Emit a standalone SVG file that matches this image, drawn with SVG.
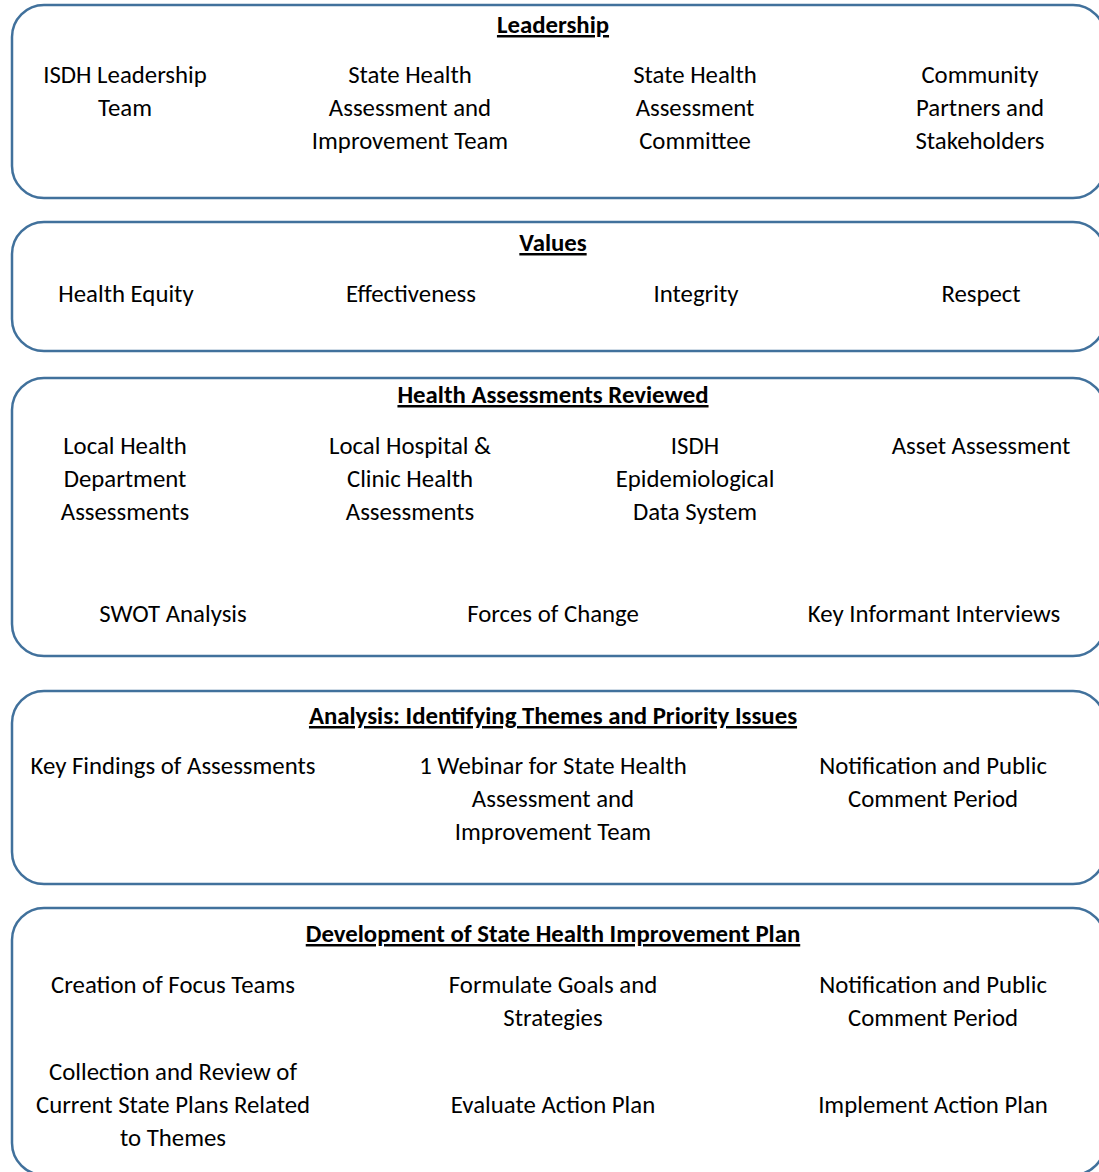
<svg xmlns="http://www.w3.org/2000/svg" width="1099" height="1172" viewBox="0 0 1099 1172">
<style>
.box{fill:#fff;stroke:#41719C;stroke-width:2.5}
text{font-family:Carlito,Lato,"Liberation Sans",sans-serif;font-size:24.8px;fill:#000;text-anchor:middle}
.t{font-weight:bold;text-decoration:underline}
</style>
<rect width="1099" height="1172" fill="#fff"/>
<g id="leadership">
<rect class="box" x="12" y="5" width="1093" height="193" rx="32"/>
<text class="t" x="553" y="33">Leadership</text>
<text x="125" y="83">ISDH Leadership</text><text x="125" y="116">Team</text>
<text x="410" y="83">State Health</text><text x="410" y="116">Assessment and</text><text x="410" y="149">Improvement Team</text>
<text x="695" y="83">State Health</text><text x="695" y="116">Assessment</text><text x="695" y="149">Committee</text>
<text x="980" y="83">Community</text><text x="980" y="116">Partners and</text><text x="980" y="149">Stakeholders</text>
</g>
<g id="values">
<rect class="box" x="12" y="222" width="1093" height="129" rx="32"/>
<text class="t" x="553" y="251">Values</text>
<text x="126" y="302">Health Equity</text>
<text x="411" y="302">Effectiveness</text>
<text x="696" y="302">Integrity</text>
<text x="981" y="302">Respect</text>
</g>
<g id="assessments">
<rect class="box" x="12" y="378" width="1093" height="278" rx="32"/>
<text class="t" x="553" y="403">Health Assessments Reviewed</text>
<text x="125" y="454">Local Health</text><text x="125" y="487">Department</text><text x="125" y="520">Assessments</text>
<text x="410" y="454">Local Hospital &amp;</text><text x="410" y="487">Clinic Health</text><text x="410" y="520">Assessments</text>
<text x="695" y="454">ISDH</text><text x="695" y="487">Epidemiological</text><text x="695" y="520">Data System</text>
<text x="981" y="454">Asset Assessment</text>
<text x="173" y="622">SWOT Analysis</text>
<text x="553" y="622">Forces of Change</text>
<text x="934" y="622">Key Informant Interviews</text>
</g>
<g id="analysis">
<rect class="box" x="12" y="691" width="1093" height="193" rx="32"/>
<text class="t" x="553" y="724">Analysis: Identifying Themes and Priority Issues</text>
<text x="173" y="774">Key Findings of Assessments</text>
<text x="553" y="774">1 Webinar for State Health</text><text x="553" y="807">Assessment and</text><text x="553" y="840">Improvement Team</text>
<text x="933" y="774">Notification and Public</text><text x="933" y="807">Comment Period</text>
</g>
<g id="development">
<rect class="box" x="12" y="908" width="1093" height="267" rx="32"/>
<text class="t" x="553" y="942">Development of State Health Improvement Plan</text>
<text x="173" y="993">Creation of Focus Teams</text>
<text x="553" y="993">Formulate Goals and</text><text x="553" y="1026">Strategies</text>
<text x="933" y="993">Notification and Public</text><text x="933" y="1026">Comment Period</text>
<text x="173" y="1080">Collection and Review of</text><text x="173" y="1113">Current State Plans Related</text><text x="173" y="1146">to Themes</text>
<text x="553" y="1113">Evaluate Action Plan</text>
<text x="933" y="1113">Implement Action Plan</text>
</g>
<g id="connectors"/>
</svg>
